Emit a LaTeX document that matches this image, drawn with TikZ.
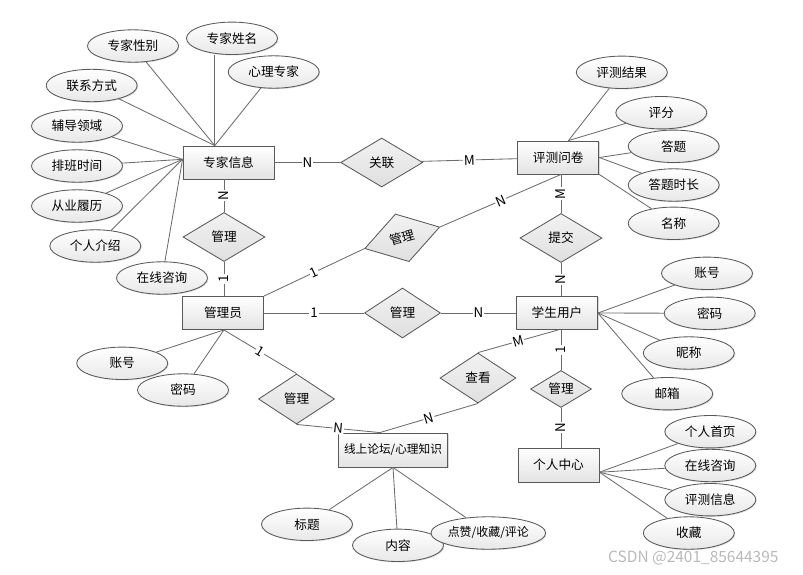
\documentclass[tikz,border=0pt]{standalone}
\usepackage{fontspec}
\usepackage{xcolor}
\usepackage{tikz}
\usetikzlibrary{shapes.geometric,shadows}
\newfontfamily\cjk{Noto Sans CJK SC}

\tikzset{
	entity/.style={rectangle, draw=gray!70!black, top color=white, bottom color=gray!22,
		minimum width=2.025cm, minimum height=0.825cm, inner sep=0pt,
		drop shadow={shadow xshift=0.7pt, shadow yshift=-0.7pt, opacity=0.3}},
	attr/.style={ellipse, draw=gray!70!black, top color=white, bottom color=gray!18,
		minimum width=2.275cm, minimum height=0.81cm, inner sep=0pt,
		drop shadow={shadow xshift=0.7pt, shadow yshift=-0.7pt, opacity=0.25}},
	rel/.style={diamond, draw=gray!70!black, top color=gray!10, bottom color=gray!25,
		minimum width=2.05cm, minimum height=1.225cm, inner sep=0pt},
	lbl/.style={sloped, fill=white, inner sep=0.6pt, font=\cjk\fontsize{9.5}{11}\selectfont}
}

\begin{document}
\begin{tikzpicture}[x=0.025cm, y=-0.025cm, font=\cjk\fontsize{9}{11}\selectfont,
		line width=0.6pt, draw=gray!85!black]
				\useasboundingbox (0,0) rectangle (803,574);
				
				% entities
				\node[entity, minimum width=2.275cm] (zj) at (228.5,162.5) {专家信息};
				\node[entity] (pq) at (558.3,157.5) {评测问卷};
				\node[entity] (gly) at (223,313) {管理员};
				\node[entity] (xs) at (557,313) {学生用户};
				\node[entity, minimum width=2.725cm, minimum height=0.85cm,
					font=\cjk\fontsize{8.3}{10}\selectfont] (lt) at (393,450) {线上论坛/心理知识};
				\node[entity, minimum height=0.85cm] (gr) at (558.5,465) {个人中心};
				
				% relations
				\node[rel] (gx) at (381.7,162.5) {关联};
				\node[rel] (gl1) at (224,237) {管理};
				\node[rel, minimum width=1.95cm, minimum height=1.24cm, rotate=16] (gl2) at (402.2,237.8) {管理};
				\node[rel, minimum width=1.9cm, minimum height=1.25cm] (gl3) at (402.5,313) {管理};
				\node[rel, minimum width=1.9cm, minimum height=1.25cm] (gl4) at (296.5,399) {管理};
				\node[rel, minimum width=1.9cm, minimum height=1.25cm] (ck) at (478,378) {查看};
				\node[rel] (tj) at (561,238) {提交};
				\node[rel, minimum width=1.525cm, minimum height=0.925cm] (gm) at (561,389) {管理};
				
				% attributes
				\foreach \n/\x/\y/\t in
				{a1/133/46/专家性别, a2/232/38.3/专家姓名, a3/273.7/72/心理专家,
				 a4/91.7/85.5/联系方式, a5/77/126/辅导领域, a6/77/166/排班时间,
				 a7/77/206/从业履历, a8/95.3/246/个人介绍, a9/162/278/在线咨询}{
					\node[attr] (\n) at (\x,\y) {\t};
				}
				\foreach \n/\x/\y/\t in
				{b1/621.8/72.3/评测结果, b2/661.3/112.7/评分, b3/673.7/146.3/答题,
				 b4/673.7/185/答题时长, b5/673.7/223.3/名称}{
					\node[attr] (\n) at (\x,\y) {\t};
				}
				\foreach \n/\x/\y/\t in
				{c1/707/273.3/账号, c2/709.7/313.3/密码, c3/688.8/353/昵称, c4/667.2/393.7/邮箱,
				 d1/710.3/431.7/个人首页, d2/710.3/465.5/在线咨询, d3/710.3/499.7/评测信息, d4/688.8/533/收藏,
				 e1/122.2/363.3/账号, e2/183/390/密码, f1/307/524.3/标题, f2/398/545.3/内容}{
					\node[attr] (\n) at (\x,\y) {\t};
				}
				\node[attr, font=\cjk\fontsize{8.5}{10}\selectfont] (f3) at (488.3,533) {点赞/收藏/评论};
				
				% attribute lines
				\foreach \a/\b in
				{a1/zj.129, a3/zj.129, a4/zj.129, a5/zj.176, a6/zj.176,
				 a7/zj.176, a8/zj.176, a9/zj.176, b1/pq.59, b2/pq.59, b3/pq.east,
				 b4/pq.east, b5/pq.south east, c1/xs.east, c2/xs.east, c3/xs.east,
				 c4/xs.east, d1/gr.-10, d2/gr.-10, d3/gr.-10, d4/gr.-10,
				 e1/gly.-87, e2/gly.-87, f1/lt.south, f2/lt.south, f3/lt.south}{
					\draw (\a) -- (\b);
				}
				\draw (zj.129) -- (zj.129 |- a2.south); % straight down
				
				% relation lines
				\coordinate (zjb) at (gl1.north |- zj.south);
				\coordinate (glyt) at (gl1.south |- gly.north);
				\coordinate (pqb) at (tj.north |- pq.south);
				\coordinate (xst) at (tj.south |- xs.north);
				\coordinate (xsb) at (gm.north |- xs.south);
				\coordinate (grt) at (gm.south |- gr.north);
				
				\draw (zj) -- node[lbl]{N} (gx);
				\draw (gx) -- node[lbl]{M} (pq);
				\draw (gl1.north) -- node[lbl]{N} (zjb);
				\draw (glyt) -- node[lbl]{1} (gl1.south);
				\draw (gly.north east) -- node[lbl]{1} (gl2.west);
				\draw (gl2.east) -- node[lbl]{N} (pqb);
				\draw (tj.north) -- node[lbl]{M} (pqb);
				\draw (xst) -- node[lbl]{N} (tj.south);
				\draw (gly) -- node[lbl]{1} (gl3);
				\draw (gl3) -- node[lbl]{N} (xs);
				\draw (gly.-87) -- node[lbl]{1} (gl4.north);
				\draw (gl4.south) -- node[lbl]{N} (lt.127);
				\draw (lt.127) -- node[lbl]{N} (ck.south);
				\draw (ck.north) -- node[lbl]{M} (xs.-86);
				\draw (gm.north) -- node[lbl]{1} (xsb);
				\draw (grt) -- node[lbl]{N} (gm.south);
				
				\node[text=gray!55, font=\cjk\fontsize{11}{13}\selectfont] (wm) at (693.3,558.3) {CSDN @2401\_85644395};
			\end{tikzpicture}
\end{document}
